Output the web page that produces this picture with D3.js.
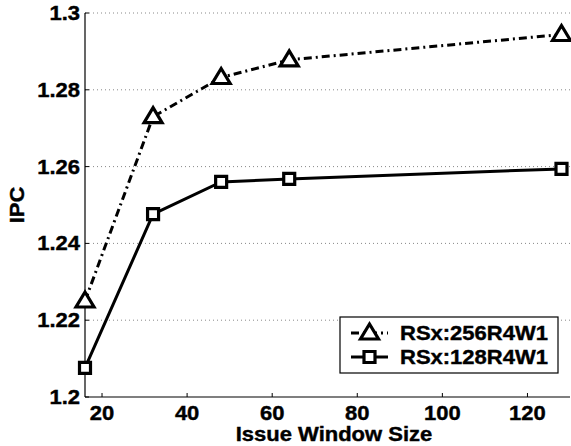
<!DOCTYPE html>
<html>
<head>
<meta charset="utf-8">
<script src="https://cdn.jsdelivr.net/npm/d3@7"></script>
<style>
  body { margin: 0; background: #fff; }
  text { font-family: "Liberation Sans", Arial, sans-serif; font-weight: bold; fill: #000; stroke: #000; stroke-width: 0.4px; }
</style>
</head>
<body>
<div id="chart"></div>
<script>
// issue window sizes
const windowSizes = [16, 32, 48, 64, 128];
// IPC per series
const ipc256 = [1.2250, 1.2730, 1.2832, 1.2878, 1.2944];
const ipc128 = [1.2076, 1.2476, 1.2560, 1.2568, 1.2594];
const seriesNames = ["RSx:256R4W1", "RSx:128R4W1"];
const xTicks = [20, 40, 60, 80, 100, 120];
const yTicks = [1.2, 1.22, 1.24, 1.26, 1.28, 1.3];

const width = 571, height = 446;
const margin = { top: 13, right: 1, bottom: 49, left: 85 };
const stretch = 1.1; // source fonts are a bit wide

const svg = d3.select("#chart")
  .append("svg")
  .attr("width", width)
  .attr("height", height);

const x = d3.scaleLinear().domain([16, 130]).range([margin.left, width - margin.right]);
const y = d3.scaleLinear().domain([1.2, 1.3]).range([height - margin.bottom, margin.top]);

// stretched text helper
const label = (sel, tx, ty, str, anchor, size, rot) => {
  sel.append("text")
    .attr("transform", `translate(${tx},${ty})` + (rot ? ` rotate(${rot})` : "") + ` scale(${stretch},1)`)
    .attr("text-anchor", anchor)
    .style("font-size", size + "px")
    .text(str);
};

// gridlines (dotted, horizontal only)
svg.append("g")
  .selectAll("line")
  .data(yTicks.filter((d) => d > 1.2))
  .enter()
  .append("line")
  .attr("x1", margin.left)
  .attr("x2", width - margin.right)
  .attr("y1", (d) => y(d))
  .attr("y2", (d) => y(d))
  .attr("stroke", "#888")
  .attr("stroke-width", 1)
  .attr("stroke-dasharray", "1,3");

// axes lines
svg.append("line")
  .attr("x1", margin.left).attr("x2", margin.left)
  .attr("y1", y(1.3)).attr("y2", y(1.2))
  .attr("stroke", "#000").attr("stroke-width", 1.2);
svg.append("line")
  .attr("x1", margin.left).attr("x2", width - margin.right)
  .attr("y1", y(1.2)).attr("y2", y(1.2))
  .attr("stroke", "#000").attr("stroke-width", 1.2);

// ticks, inward
svg.append("g")
  .selectAll("line")
  .data(xTicks)
  .enter()
  .append("line")
  .attr("x1", (d) => x(d)).attr("x2", (d) => x(d))
  .attr("y1", y(1.2)).attr("y2", y(1.2) - 4)
  .attr("stroke", "#000");
svg.append("g")
  .selectAll("line")
  .data(yTicks)
  .enter()
  .append("line")
  .attr("x1", margin.left).attr("x2", margin.left + 4)
  .attr("y1", (d) => y(d)).attr("y2", (d) => y(d))
  .attr("stroke", "#000");

// tick labels
const tl = svg.append("g");
xTicks.forEach((d) => label(tl, x(d), height - 26, d, "middle", 20));
yTicks.forEach((d) => label(tl, margin.left - 5, y(d) + 7, d3.format(".2~f")(d), "end", 20));

// axis titles
label(svg, 334, 441, "Issue Window Size", "middle", 20);
label(svg, 24, 205, "IPC", "middle", 20, -90);

// series
const line = d3.line()
  .x((d) => x(d[0]))
  .y((d) => y(d[1]));

const pts256 = windowSizes.map((w, i) => [w, ipc256[i]]);
const pts128 = windowSizes.map((w, i) => [w, ipc128[i]]);

const triPath = "M0,-9 L9,6 L-9,6 Z";
const sqPath = "M-5.5,-5.5 H5.5 V5.5 H-5.5 Z";

svg.append("path")
  .attr("d", line(pts256))
  .attr("fill", "none")
  .attr("stroke", "#000")
  .attr("stroke-width", 3)
  .attr("stroke-dasharray", "8,4,2,4");

svg.append("path")
  .attr("d", line(pts128))
  .attr("fill", "none")
  .attr("stroke", "#000")
  .attr("stroke-width", 3);

svg.append("g")
  .selectAll("path")
  .data(pts256)
  .enter()
  .append("path")
  .attr("transform", (d) => `translate(${x(d[0])},${y(d[1])})`)
  .attr("d", triPath)
  .attr("fill", "#fff")
  .attr("stroke", "#000")
  .attr("stroke-width", 3.2);

svg.append("g")
  .selectAll("path")
  .data(pts128)
  .enter()
  .append("path")
  .attr("transform", (d) => `translate(${x(d[0])},${y(d[1])})`)
  .attr("d", sqPath)
  .attr("fill", "#fff")
  .attr("stroke", "#000")
  .attr("stroke-width", 3.2);

// legend
const legend = svg.append("g");
legend.append("rect")
  .attr("x", 340).attr("y", 317)
  .attr("width", 218).attr("height", 56)
  .attr("fill", "#fff")
  .attr("stroke", "#000")
  .attr("stroke-width", 1.2);

const rows = [
  { name: seriesNames[0], dash: "8,4,2,4", shape: triPath, cy: 333 },
  { name: seriesNames[1], dash: null, shape: sqPath, cy: 357 },
];
rows.forEach((r) => {
  legend.append("line")
    .attr("x1", 351).attr("x2", 388)
    .attr("y1", r.cy).attr("y2", r.cy)
    .attr("stroke", "#000")
    .attr("stroke-width", 3)
    .attr("stroke-dasharray", r.dash);
  legend.append("path")
    .attr("transform", `translate(369.5,${r.cy})`)
    .attr("d", r.shape)
    .attr("fill", "#fff")
    .attr("stroke", "#000")
    .attr("stroke-width", 3.2);
  label(legend, 400, r.cy + 7, r.name, "start", 20);
});
</script>
</body>
</html>
